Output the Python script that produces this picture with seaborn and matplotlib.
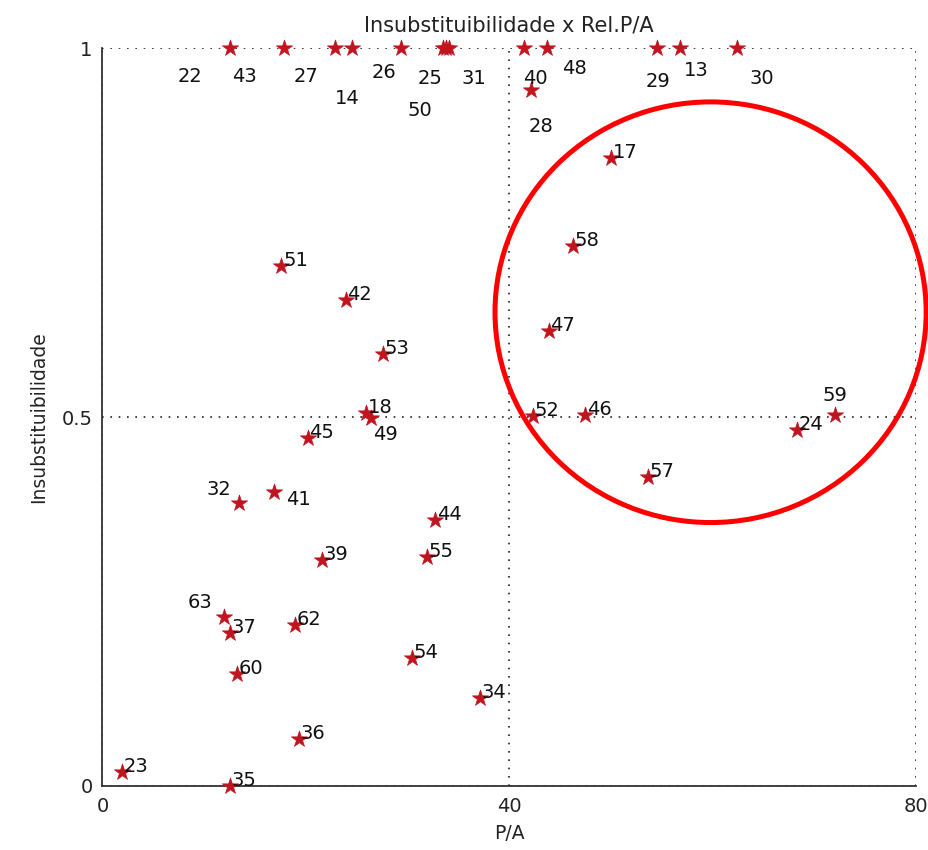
import matplotlib
matplotlib.use("Agg")
import matplotlib.pyplot as plt
from matplotlib.patches import Ellipse
import seaborn as sns
import pandas as pd

# ---- data ----
point_ids = [22, 43, 27, 14, 26, 50, 25, 31, 28, 48, 29, 13, 30,
             40, 17, 58, 47, 52, 46, 57, 24, 59,
             51, 42, 53, 18, 49, 45, 32, 41, 44, 55, 39,
             63, 37, 62, 60, 54, 34, 36, 23, 35]
pa_values = [12.5, 17.9, 22.9, 24.5, 29.4, 33.5, 34.1, 33.8, 41.5, 43.7, 54.5, 56.8, 62.4,
             42.1, 50.0, 46.3, 43.9, 42.3, 47.5, 53.6, 68.3, 72.0,
             17.6, 23.9, 27.6, 25.9, 26.4, 20.2, 13.4, 16.9, 32.7, 31.9, 21.6,
             12.0, 12.5, 18.9, 13.2, 30.4, 37.1, 19.3, 1.9, 12.5]
insub_values = [1.0, 1.0, 1.0, 1.0, 1.0, 1.0, 1.0, 1.0, 1.0, 1.0, 1.0, 1.0, 1.0,
                0.943, 0.851, 0.732, 0.617, 0.502, 0.503, 0.419, 0.482, 0.503,
                0.705, 0.658, 0.585, 0.506, 0.498, 0.472, 0.384, 0.398, 0.360, 0.310, 0.306,
                0.229, 0.207, 0.218, 0.152, 0.173, 0.119, 0.064, 0.019, 0.0]

# labels that were moved away from their star (label centre in data units)
moved_ids = [22, 43, 27, 14, 26, 25, 50, 31, 40, 48, 29, 13, 30, 28, 32, 41, 63, 49, 59]
moved_x = [8.6, 14.0, 20.0, 24.1, 27.7, 32.2, 31.2, 36.5, 42.6, 46.4, 54.6, 58.4, 64.8, 43.1,
           11.4, 19.3, 9.6, 27.8, 72.0]
moved_y = [0.961, 0.961, 0.961, 0.932, 0.967, 0.959, 0.915, 0.959, 0.959, 0.972, 0.955, 0.969, 0.959, 0.894,
           0.402, 0.388, 0.249, 0.476, 0.529]

x_ticks = [0, 40, 80]
y_ticks = [0, 0.5, 1]
y_tick_labels = ["0", "0.5", "1"]

# highlighted region (ellipse)
circle_center = (59.8, 0.642)
circle_size = (42.4, 0.570)

df = pd.DataFrame({"id": point_ids, "P/A": pa_values, "Insub": insub_values})

sns.set_style("white")
plt.rcParams["font.family"] = ["DejaVu Sans"]

fig = plt.figure(figsize=(9.29, 8.5), dpi=100)
ax = fig.add_axes([0.1103, 0.0753, 0.8757, 0.8682])

ax.set_xlim(0, 80)
ax.set_ylim(0, 1)
ax.set_xticks(x_ticks)
ax.set_yticks(y_ticks)
ax.set_yticklabels(y_tick_labels)

ax.grid(True, color="#222222", linestyle=(0, (1, 4)), linewidth=1.2)
ax.set_axisbelow(True)

for s in ["top", "right"]:
    ax.spines[s].set_visible(False)
for s in ["left", "bottom"]:
    ax.spines[s].set_color("#333333")
    ax.spines[s].set_linewidth(1.3)

ax.tick_params(direction="in", length=4, width=1.2, colors="#333333",
               labelsize=14, labelcolor="#222222")
ax.tick_params(axis="x", pad=8)
ax.tick_params(axis="y", pad=7)

sns.scatterplot(data=df, x="P/A", y="Insub", marker="*", s=150,
                color="#C0141E", edgecolor="#C0141E", linewidth=0.5,
                ax=ax, clip_on=False, zorder=3, legend=False)

moved = dict(zip(moved_ids, zip(moved_x, moved_y)))
for pid, xv, yv in zip(point_ids, pa_values, insub_values):
    if pid in moved:
        lx, ly = moved[pid]
        ax.text(lx, ly, str(pid), ha="center", va="center", fontsize=14,
                color="#111111", zorder=4)
    else:
        ax.annotate(str(pid), (xv, yv), xytext=(1.2, 0), textcoords="offset points",
                    ha="left", va="baseline", fontsize=14, color="#111111", zorder=4)

ell = Ellipse(circle_center, circle_size[0], circle_size[1], fill=False,
              edgecolor="#FF0000", linewidth=3.6, clip_on=False, zorder=5)
ax.add_patch(ell)

ax.set_title("Insubstituibilidade x Rel.P/A", fontsize=15, pad=12, color="#222222")
ax.set_xlabel("P/A", fontsize=13.5, labelpad=6, color="#222222")
ax.set_ylabel("Insubstituibilidade", fontsize=13.5, labelpad=10, color="#222222")

fig.savefig("out.png", dpi=100)
